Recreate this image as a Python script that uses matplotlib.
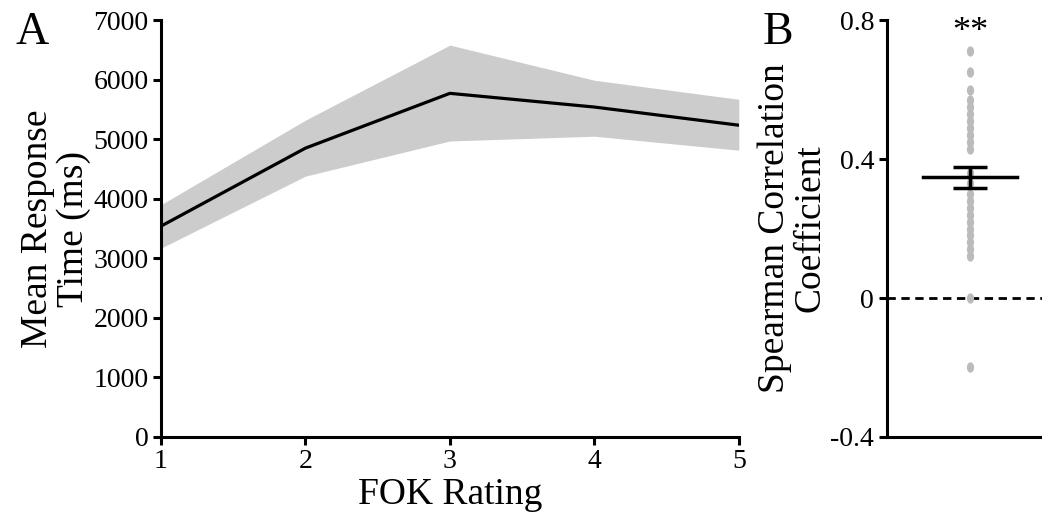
import matplotlib.pyplot as plt
import numpy as np

plt.rcParams['font.family'] = ['Liberation Serif', 'DejaVu Serif']

# panel A: mean response time by FOK rating
fok = [1, 2, 3, 4, 5]
rt_mean = [3540, 4850, 5770, 5540, 5235]
rt_upper = [3900, 5320, 6580, 5990, 5670]
rt_lower = [3170, 4380, 4970, 5050, 4815]

# panel B: individual Spearman correlations
rho = [0.71, 0.65, 0.60, 0.57, 0.55, 0.53, 0.51, 0.49, 0.47, 0.45, 0.43,
       0.36, 0.33, 0.30, 0.28, 0.26, 0.24, 0.22, 0.20, 0.18, 0.16, 0.14, 0.12,
       0.0, -0.20]
rho_mean = 0.347
rho_sem = 0.031

fig = plt.figure(figsize=(10.42, 5.15), dpi=100)
axA = fig.add_axes([0.1545, 0.1515, 0.5545, 0.8095])
axB = fig.add_axes([0.851, 0.1515, 0.16, 0.8095])

lw = 2.2
for ax in (axA, axB):
    ax.spines['top'].set_visible(False)
    ax.spines['right'].set_visible(False)
    ax.spines['left'].set_linewidth(lw)
    ax.spines['bottom'].set_linewidth(lw)
    ax.tick_params(width=lw, length=6, labelsize=20, direction='out', pad=3)

axA.fill_between(fok, rt_lower, rt_upper, color='#cccccc', linewidth=0)
axA.plot(fok, rt_mean, color='black', lw=2.3)
axA.set_xlim(1, 5)
axA.set_ylim(0, 7000)
axA.set_xticks(fok)
axA.set_yticks(range(0, 7001, 1000))
axA.set_xlabel('FOK Rating', fontsize=27, labelpad=2)
axA.set_ylabel('Mean Response\nTime (ms)', fontsize=27, linespacing=1.05, labelpad=2)
fig.text(0.015, 0.915, 'A', fontsize=33)

# vertical ellipse marker
t = np.linspace(0, 2 * np.pi, 40)
ell = np.column_stack([0.7 * np.cos(t), np.sin(t)])

axB.axhline(0, color='black', lw=2, ls=(0, (3, 2)))
axB.scatter(np.full(len(rho), 0.5), rho, s=55, color='#bbbbbb', zorder=2,
            linewidths=0, marker=ell)
axB.errorbar([0.5], [rho_mean], yerr=[rho_sem], color='black', capsize=12,
             capthick=2.5, elinewidth=2.5, zorder=3)
axB.plot([0.22, 0.78], [rho_mean, rho_mean], color='black', lw=2.5, zorder=3)
axB.set_xlim(0, 1.0)
axB.set_ylim(-0.4, 0.8)
axB.set_xticks([])
axB.set_yticks([-0.4, 0, 0.4, 0.8])
axB.set_yticklabels(['-0.4', '0', '0.4', '0.8'])
axB.set_ylabel('Spearman Correlation\nCoefficient', fontsize=27, linespacing=1.05, labelpad=2)
axB.text(0.5, 0.765, '**', fontsize=26, ha='center', va='center')
fig.text(0.732, 0.915, 'B', fontsize=33)

fig.savefig('out.png', dpi=100)
